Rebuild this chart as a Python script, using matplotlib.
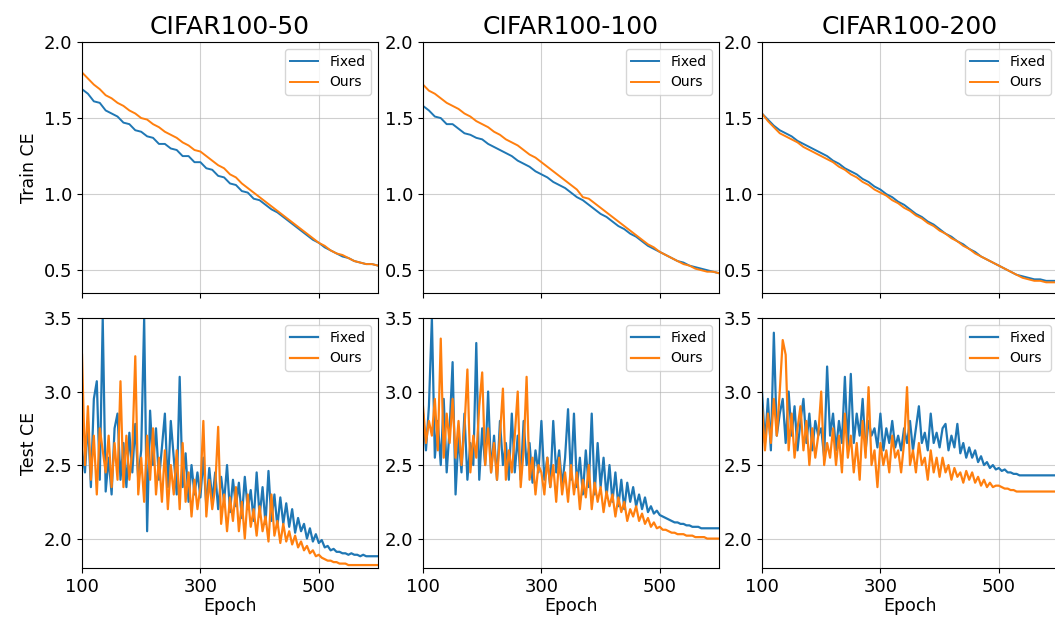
import numpy as np
import matplotlib
matplotlib.use("Agg")
import matplotlib.pyplot as plt

# epochs (x axis)
train_epochs = np.arange(100, 601, 10)
test_epochs = np.arange(100, 601, 5)

titles = ["CIFAR100-50", "CIFAR100-100", "CIFAR100-200"]
series_labels = ["Fixed", "Ours"]

# ---- train cross-entropy, every 10 epochs ----
train_fixed_50 = [
    1.69, 1.66, 1.61, 1.60, 1.55, 1.53, 1.51, 1.47, 1.46, 1.42,
    1.41, 1.38, 1.37, 1.33, 1.33, 1.30, 1.29, 1.25, 1.25, 1.21,
    1.21, 1.17, 1.16, 1.12, 1.11, 1.07, 1.06, 1.02, 1.01, 0.97,
    0.96, 0.93, 0.90, 0.88, 0.85, 0.82, 0.79, 0.76, 0.73, 0.70,
    0.68, 0.65, 0.63, 0.61, 0.59, 0.58, 0.56, 0.55, 0.54, 0.54,
    0.53,
]
train_ours_50 = [
    1.80, 1.76, 1.72, 1.69, 1.65, 1.63, 1.60, 1.58, 1.55, 1.53,
    1.50, 1.49, 1.46, 1.44, 1.41, 1.39, 1.37, 1.34, 1.32, 1.29,
    1.28, 1.25, 1.22, 1.19, 1.17, 1.13, 1.11, 1.07, 1.04, 1.01,
    0.98, 0.95, 0.92, 0.89, 0.86, 0.83, 0.80, 0.77, 0.74, 0.71,
    0.68, 0.66, 0.63, 0.61, 0.60, 0.58, 0.56, 0.55, 0.54, 0.54,
    0.53,
]
train_fixed_100 = [
    1.58, 1.55, 1.51, 1.50, 1.46, 1.46, 1.43, 1.40, 1.39, 1.37,
    1.36, 1.33, 1.31, 1.29, 1.27, 1.25, 1.22, 1.20, 1.18, 1.15,
    1.13, 1.11, 1.08, 1.06, 1.04, 1.01, 0.98, 0.96, 0.93, 0.90,
    0.87, 0.85, 0.82, 0.79, 0.77, 0.74, 0.72, 0.69, 0.66, 0.64,
    0.62, 0.60, 0.58, 0.56, 0.55, 0.53, 0.52, 0.51, 0.50, 0.49,
    0.48,
]
train_ours_100 = [
    1.72, 1.68, 1.66, 1.63, 1.60, 1.58, 1.56, 1.53, 1.51, 1.48,
    1.46, 1.44, 1.41, 1.39, 1.36, 1.34, 1.32, 1.29, 1.26, 1.24,
    1.21, 1.18, 1.15, 1.12, 1.09, 1.06, 1.03, 0.98, 0.97, 0.94,
    0.91, 0.88, 0.85, 0.82, 0.79, 0.76, 0.73, 0.70, 0.67, 0.65,
    0.62, 0.60, 0.58, 0.56, 0.54, 0.53, 0.51, 0.50, 0.49, 0.49,
    0.48,
]
train_fixed_200 = [
    1.53, 1.49, 1.45, 1.42, 1.40, 1.38, 1.35, 1.33, 1.31, 1.29,
    1.27, 1.25, 1.22, 1.20, 1.17, 1.15, 1.13, 1.10, 1.08, 1.05,
    1.03, 1.00, 0.98, 0.95, 0.93, 0.90, 0.87, 0.85, 0.82, 0.80,
    0.77, 0.74, 0.72, 0.69, 0.67, 0.64, 0.62, 0.59, 0.57, 0.55,
    0.53, 0.51, 0.49, 0.47, 0.46, 0.45, 0.44, 0.44, 0.43, 0.43,
    0.43,
]
train_ours_200 = [
    1.53, 1.48, 1.44, 1.40, 1.38, 1.36, 1.34, 1.31, 1.29, 1.27,
    1.25, 1.23, 1.21, 1.18, 1.16, 1.13, 1.11, 1.08, 1.06, 1.03,
    1.01, 0.99, 0.96, 0.94, 0.91, 0.89, 0.86, 0.84, 0.81, 0.79,
    0.76, 0.74, 0.71, 0.69, 0.66, 0.64, 0.61, 0.59, 0.57, 0.55,
    0.53, 0.51, 0.49, 0.47, 0.45, 0.44, 0.43, 0.43, 0.42, 0.42,
    0.42,
]

# ---- test cross-entropy, every 5 epochs ----
test_fixed_50 = [
    2.60, 2.45, 2.80, 2.35, 2.95, 3.07, 2.40, 3.50, 2.32, 2.55,
    2.30, 2.75, 2.85, 2.40, 2.65, 2.35, 2.72, 2.45, 2.78, 2.40,
    2.60, 3.50, 2.05, 2.87, 2.50, 2.75, 2.40, 2.62, 2.85, 2.35,
    2.80, 2.55, 2.30, 3.10, 2.35, 2.58, 2.25, 2.50, 2.30, 2.45,
    2.28, 2.55, 2.22, 2.48, 2.26, 2.45, 2.20, 2.42, 2.25, 2.50,
    2.18, 2.40, 2.22, 2.38, 2.14, 2.42, 2.20, 2.33, 2.12, 2.45,
    2.15, 2.35, 2.10, 2.46, 2.12, 2.30, 2.08, 2.28, 2.10, 2.24,
    2.08, 2.20, 2.04, 2.14, 2.05, 2.10, 2.00, 2.07, 1.98, 2.03,
    1.97, 1.99, 1.94, 1.95, 1.92, 1.93, 1.91, 1.91, 1.90, 1.90,
    1.89, 1.90, 1.89, 1.89, 1.88, 1.89, 1.88, 1.88, 1.88, 1.88,
    1.88,
]
test_ours_50 = [
    3.25, 2.50, 2.90, 2.40, 2.70, 2.30, 2.75, 2.60, 2.45, 2.70,
    2.35, 2.65, 2.40, 3.07, 2.35, 2.70, 2.40, 2.60, 3.24, 2.30,
    2.55, 2.25, 2.70, 2.40, 2.75, 2.30, 2.55, 2.25, 2.60, 2.20,
    2.50, 2.30, 2.60, 2.20, 2.65, 2.25, 2.45, 2.15, 2.40, 2.20,
    2.35, 2.80, 2.15, 2.40, 2.20, 2.35, 2.76, 2.10, 2.30, 2.05,
    2.28, 2.12, 2.35, 2.05, 2.25, 2.00, 2.30, 2.08, 2.20, 2.02,
    2.22, 2.05, 2.15, 1.98, 2.30, 2.02, 2.12, 1.97, 2.10, 1.98,
    2.05, 1.96, 2.02, 1.94, 1.98, 1.92, 1.95, 1.90, 1.92, 1.88,
    1.89, 1.87, 1.86, 1.85, 1.85, 1.84, 1.84, 1.83, 1.83, 1.83,
    1.82, 1.82, 1.82, 1.82, 1.82, 1.82, 1.82, 1.82, 1.82, 1.82,
    1.82,
]
test_fixed_100 = [
    2.85, 2.60, 2.90, 3.50, 2.55, 2.80, 2.50, 2.95, 2.45, 2.75,
    3.20, 2.30, 2.70, 2.45, 2.85, 2.40, 2.65, 2.50, 3.33, 2.40,
    2.75, 2.50, 3.00, 2.45, 2.70, 2.40, 2.80, 2.50, 2.65, 2.40,
    2.85, 2.45, 2.70, 2.40, 2.80, 2.50, 2.65, 2.38, 2.60, 2.45,
    2.80, 2.40, 2.55, 2.35, 2.80, 2.45, 2.60, 2.35, 2.55, 2.88,
    2.40, 2.85, 2.35, 2.55, 2.30, 2.60, 2.35, 2.85, 2.30, 2.65,
    2.35, 2.55, 2.28, 2.50, 2.25, 2.45, 2.22, 2.40, 2.20, 2.38,
    2.25, 2.35, 2.22, 2.30, 2.20, 2.28, 2.18, 2.22, 2.17, 2.19,
    2.16, 2.15, 2.14, 2.13, 2.12, 2.11, 2.11, 2.10, 2.10, 2.09,
    2.09, 2.08, 2.08, 2.08, 2.07, 2.07, 2.07, 2.07, 2.07, 2.07,
    2.07,
]
test_ours_100 = [
    2.90, 2.65, 2.80, 2.70, 2.95, 2.60, 3.36, 2.55, 2.85, 2.65,
    2.95, 2.55, 2.80, 2.50, 2.75, 3.15, 2.45, 2.70, 2.55, 2.90,
    3.13, 2.50, 2.75, 2.45, 2.65, 2.40, 2.70, 3.02, 2.40, 2.60,
    2.45, 2.70, 3.00, 2.35, 2.60, 3.10, 2.40, 2.55, 2.30, 2.50,
    2.45, 2.30, 2.55, 2.35, 2.50, 2.25, 2.55, 2.30, 2.45, 2.25,
    2.50, 2.30, 2.45, 2.20, 2.40, 2.28, 2.50, 2.20, 2.38, 2.25,
    2.35, 2.18, 2.32, 2.22, 2.30, 2.15, 2.28, 2.18, 2.25, 2.12,
    2.20, 2.15, 2.22, 2.12, 2.17, 2.10, 2.14, 2.08, 2.11, 2.07,
    2.08, 2.06, 2.06, 2.05, 2.04, 2.04, 2.03, 2.03, 2.03, 2.02,
    2.02, 2.02, 2.01, 2.01, 2.01, 2.01, 2.00, 2.00, 2.00, 2.00,
    2.00,
]
test_fixed_200 = [
    3.00, 2.65, 2.95, 2.60, 3.40, 2.70, 2.85, 2.95, 2.65, 3.00,
    2.70, 2.90, 2.60, 2.80, 2.95, 2.65, 2.85, 2.60, 2.80, 2.70,
    2.75, 2.55, 3.17, 2.70, 2.85, 2.60, 2.80, 2.65, 3.10, 2.62,
    3.12, 2.65, 2.85, 2.70, 2.95, 2.60, 2.80, 2.70, 2.75, 2.62,
    2.85, 2.60, 2.75, 2.65, 2.80, 2.62, 2.70, 2.60, 2.75, 2.65,
    2.80, 2.60, 2.75, 2.90, 2.65, 2.72, 2.60, 2.85, 2.65, 2.72,
    2.62, 2.75, 2.78, 2.60, 2.70, 2.62, 2.78, 2.58, 2.65, 2.55,
    2.62, 2.55, 2.60, 2.52, 2.56, 2.50, 2.52, 2.48, 2.50, 2.47,
    2.48, 2.46, 2.47, 2.45, 2.45, 2.44, 2.44, 2.43, 2.43, 2.43,
    2.43, 2.43, 2.43, 2.43, 2.43, 2.43, 2.43, 2.43, 2.43, 2.43,
    2.43,
]
test_ours_200 = [
    2.90, 2.60, 2.85, 2.65, 2.95, 2.70, 3.00, 3.35, 3.25, 2.60,
    2.85, 2.55, 2.75, 2.90, 2.60, 2.80, 2.50, 2.75, 2.55, 2.70,
    3.00, 2.50, 2.65, 2.55, 2.75, 2.50, 2.70, 2.45, 2.85, 2.55,
    2.70, 2.45, 2.65, 2.40, 2.80, 2.55, 3.03, 2.50, 2.60, 2.35,
    2.65, 2.50, 2.60, 2.45, 2.70, 2.55, 2.60, 2.45, 2.65, 3.03,
    2.50, 2.60, 2.45, 2.65, 2.50, 2.55, 2.40, 2.60, 2.45, 2.55,
    2.42, 2.55, 2.45, 2.50, 2.40, 2.48, 2.42, 2.45, 2.38, 2.46,
    2.40, 2.45, 2.38, 2.42, 2.36, 2.40, 2.35, 2.38, 2.35, 2.36,
    2.36, 2.35, 2.34, 2.34, 2.33, 2.33, 2.32, 2.32, 2.32, 2.32,
    2.32, 2.32, 2.32, 2.32, 2.32, 2.32, 2.32, 2.32, 2.32, 2.32,
    2.32,
]

train_curves = [
    (train_fixed_50, train_ours_50),
    (train_fixed_100, train_ours_100),
    (train_fixed_200, train_ours_200),
]
test_curves = [
    (test_fixed_50, test_ours_50),
    (test_fixed_100, test_ours_100),
    (test_fixed_200, test_ours_200),
]

W, H = 1055, 619
fig = plt.figure(figsize=(W / 100, H / 100), dpi=100)

col_left = [82, 423, 762]
col_width = 296
rows = [
    (42, 293, train_epochs, train_curves, (0.35, 2.0), [0.5, 1.0, 1.5, 2.0], "Train CE", 1.4),
    (318, 568, test_epochs, test_curves, (1.8, 3.5), [2.0, 2.5, 3.0, 3.5], "Test CE", 1.6),
]

for r, (top, bottom, epochs, curves, ylim, yticks, ylabel, lw) in enumerate(rows):
    for c in range(3):
        ax = fig.add_axes([col_left[c] / W, 1 - bottom / H, col_width / W, (bottom - top) / H])
        fixed, ours = curves[c]
        ax.plot(epochs, fixed, color="tab:blue", lw=lw, label=series_labels[0])
        ax.plot(epochs, ours, color="tab:orange", lw=lw, label=series_labels[1])
        ax.set_xlim(100, 600)
        ax.set_ylim(*ylim)
        ax.set_xticks([100, 300, 500])
        ax.set_yticks(yticks)
        ax.grid(True, linewidth=0.8, alpha=0.6)
        ax.tick_params(labelsize=13)
        ax.legend(loc="upper right", fontsize=10)
        if r == 0:
            ax.set_title(titles[c], fontsize=18)
            ax.tick_params(labelbottom=False)
        else:
            ax.set_xlabel("Epoch", fontsize=12.5, labelpad=1)
        if c == 0:
            ax.set_ylabel(ylabel, fontsize=12.5)

fig.savefig("out.png", dpi=100)
